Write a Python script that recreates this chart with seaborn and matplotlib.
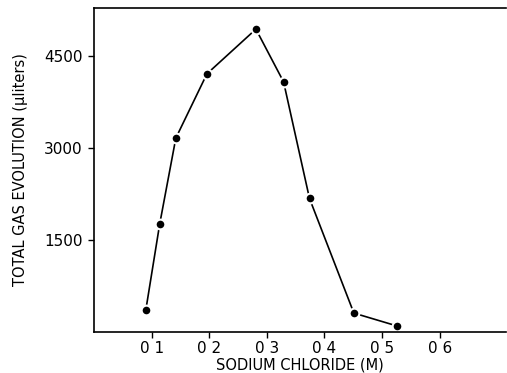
import matplotlib
matplotlib.use("Agg")
import matplotlib.pyplot as plt
import seaborn as sns
import pandas as pd

nacl = [0.090, 0.114, 0.142, 0.196, 0.281, 0.329, 0.374, 0.451, 0.525]
gas = [355, 1757, 3163, 4215, 4946, 4084, 2176, 301, 93]
xticks = [0.1, 0.2, 0.3, 0.4, 0.5, 0.6]
xticklabels = ["0 1", "0 2", "0 3", "0 4", "0 5", "0 6"]
yticks = [1500, 3000, 4500]
yticklabels = ["1500", "3000", "4500"]

sns.set_theme(style="white")
plt.rcParams['font.family'] = ['DejaVu Sans']

df = pd.DataFrame({"nacl": nacl, "gas": gas})

fig = plt.figure(figsize=(5.07, 3.73), dpi=100)
ax = fig.add_axes([94/507, 1 - 331.5/373, 1 - 94/507 - 0.002, (331.5 - 7.5)/373])

sns.lineplot(data=df, x="nacl", y="gas", ax=ax, color="black", linewidth=1.2,
             marker="o", markersize=7, markerfacecolor="black",
             markeredgecolor="white", markeredgewidth=1.5, sort=False)

ax.set_xlim(0, 0.715)
ax.set_ylim(0, 5300)
ax.set_xticks(xticks)
ax.set_xticklabels(xticklabels)
ax.set_yticks(yticks)
ax.set_yticklabels(yticklabels)
ax.tick_params(axis="both", direction="out", length=4, width=1, color="black",
               labelsize=11, labelcolor="black", pad=4, bottom=True, left=True)
ax.tick_params(axis="x", pad=3)
for s in ["left", "bottom", "top"]:
    ax.spines[s].set_visible(True)
    ax.spines[s].set_color("black")
    ax.spines[s].set_linewidth(1.2)
ax.spines["right"].set_visible(False)

ax.set_xlabel("SODIUM CHLORIDE (M)", fontsize=10.5, color="black", labelpad=1)
ax.set_ylabel("TOTAL GAS EVOLUTION (\u00b5liters)", fontsize=10.5, color="black", labelpad=12)

fig.savefig("out.png", dpi=100, facecolor="white")
